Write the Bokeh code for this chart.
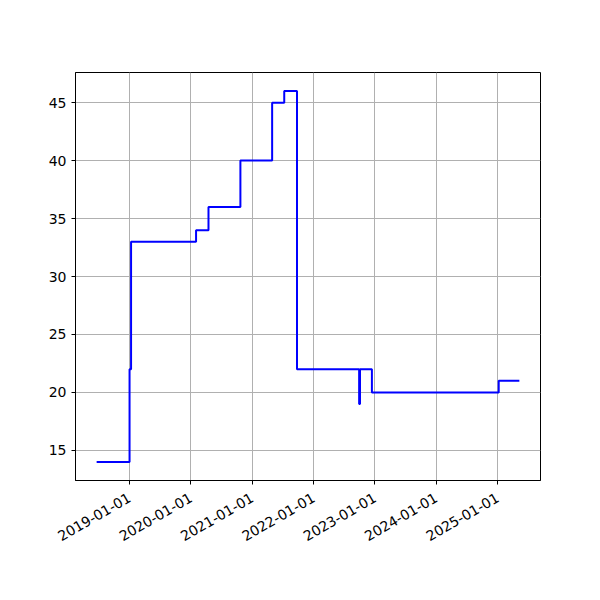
import pandas as pd
from bokeh.plotting import figure
from bokeh.models import Range1d, FixedTicker, DatetimeTickFormatter, ColumnDataSource
from bokeh.embed import file_html
from bokeh.resources import INLINE
import math

# Data
change_dates = ["2018-06-19", "2019-01-01", "2019-01-10", "2020-02-01", "2020-04-15",
                "2020-10-22", "2021-04-29", "2021-07-10", "2021-09-24", "2022-09-29",
                "2022-10-04", "2022-12-14", "2025-01-07", "2025-05-10"]
values = [14, 22, 33, 34, 36, 40, 45, 46, 22, 19, 22, 20, 21, 21]
x_tick_labels = ["2019-01-01", "2020-01-01", "2021-01-01", "2022-01-01",
                 "2023-01-01", "2024-01-01", "2025-01-01"]
y_ticks = [15, 20, 25, 30, 35, 40, 45]

dates = pd.to_datetime(change_dates)
src = ColumnDataSource(dict(x=dates, y=values))

def ms(d):
    return pd.Timestamp(d).value / 1e6

x0, x1 = ms(dates.min()), ms(dates.max())
xpad = (x1 - x0) * 0.05
y0, y1 = min(values), max(values)
ypad = (y1 - y0) * 0.05

p = figure(width=584, height=584, output_backend="svg", toolbar_location=None,
           x_axis_type="datetime",
           x_range=Range1d(x0 - xpad, x1 + xpad),
           y_range=Range1d(y0 - ypad, y1 + ypad),
           min_border_left=75, min_border_right=44, min_border_top=72, min_border_bottom=104)

p.step("x", "y", source=src, mode="after", line_color="blue", line_width=2)

p.xaxis.ticker = FixedTicker(ticks=[ms(d) for d in x_tick_labels])
p.xaxis.formatter = DatetimeTickFormatter(days="%Y-%m-%d", months="%Y-%m-%d", years="%Y-%m-%d")
p.xaxis.major_label_orientation = math.pi / 6
p.xaxis.major_label_standoff = 12
p.yaxis.ticker = FixedTicker(ticks=y_ticks)

for ax in [p.xaxis[0], p.yaxis[0]]:
    ax.minor_tick_line_color = None
    ax.major_tick_in = 0
    ax.major_tick_out = 4
    ax.axis_line_color = "black"
    ax.major_tick_line_color = "black"
    ax.major_label_text_font = "DejaVu Sans"
    ax.major_label_text_font_size = "14px"
    ax.major_label_text_color = "black"

p.grid.grid_line_color = "#b0b0b0"
p.grid.grid_line_width = 1
p.outline_line_color = "black"
p.outline_line_width = 1
p.outline_line_alpha = 1
p.background_fill_color = "white"
p.border_fill_color = "white"

open("out.html", "w").write(file_html(p, INLINE))
